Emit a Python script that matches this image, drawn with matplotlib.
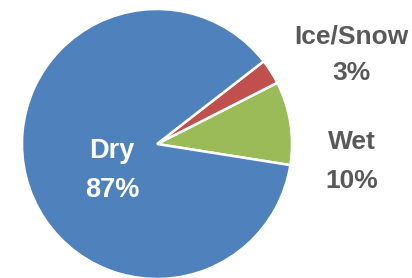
import matplotlib.pyplot as plt

labels = ['Wet', 'Ice/Snow', 'Dry']
values = [10, 3, 87]
colors = ['#9BBB59', '#C0504D', '#4F81BD']

fig = plt.figure(figsize=(4.12, 2.78), dpi=100)
ax = fig.add_axes([0, 0, 1, 1])

ax.pie(values, colors=colors, startangle=-9, counterclock=True,
       center=(157, 134), radius=135, frame=True,
       wedgeprops=dict(edgecolor='white', linewidth=1.8))

ax.set_xlim(0, 412)
ax.set_ylim(0, 278)
ax.set_aspect('equal')
ax.axis('off')

font = dict(family=['Liberation Sans', 'DejaVu Sans'], fontweight='bold',
            ha='center', va='baseline')

# label text: name line and percent line
label_pos = {'Dry': (112, 120, 81), 'Ice/Snow': (351, 234, 198), 'Wet': (352, 129, 90)}
for name, val in zip(labels, values):
    x, y1, y2 = label_pos[name]
    col = 'white' if name == 'Dry' else '#595959'
    size = 19.5 if name == 'Dry' else 19
    ax.text(x, y1, name, color=col, fontsize=size, **font)
    ax.text(x, y2, f'{val}%', color=col, fontsize=size, **font)

fig.savefig('out.png', dpi=100)
